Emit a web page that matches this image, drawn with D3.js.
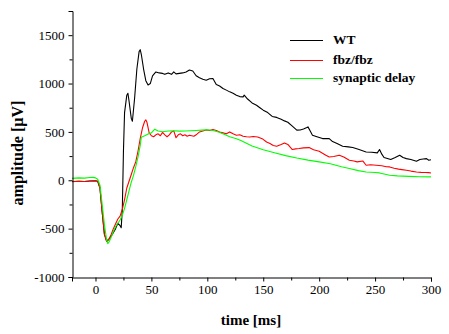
<!DOCTYPE html>
<html>
<head>
<meta charset="utf-8">
<script src="https://cdn.jsdelivr.net/npm/d3@7"></script>
<style>
  html, body { margin: 0; padding: 0; background: #fff; }
  svg { display: block; }
  text { font-family: "Liberation Serif", "Times New Roman", serif; }
</style>
</head>
<body>
<script>
// ---- data (time in ms, amplitude in µV) ----
const seriesNames = ["WT", "fbz/fbz", "synaptic delay"];
const seriesColors = ["#000000", "#ff0000", "#00ff00"];

const wtTime = [-21,-15,-10,-5,0,2,4,6,8,10,12,15,18,20,22,23,24,25,26,28,29,30,32,33,35,37,39,40,41,43,45,47,49,51,54,57,60,62,65,68,70,72,75,78,81,84,87,90,93,96,99,102,105,108,111,114,117,120,123,126,129,132,133,136,140,144,147,150,154,158,162,166,169,172,176,180,183,186,189,190,192,194,198,203,209,212,216,221,226,230,235,242,247,252,254,256,258,261,264,268,272,275,278,282,287,290,293,296,298,300];
const wtValues = [-12,-10,-12,-8,-5,-10,-80,-330,-560,-630,-610,-560,-500,-445,-470,-490,-300,300,700,880,900,820,640,610,850,1150,1330,1350,1300,1150,1030,985,1000,1080,1120,1110,1105,1095,1110,1095,1120,1100,1105,1110,1120,1140,1130,1080,1060,1045,1035,1050,1052,990,975,949,932,914,900,880,865,862,880,840,800,776,750,725,700,660,650,630,614,600,560,518,520,530,545,552,510,466,450,431,431,400,380,352,345,338,320,293,290,283,318,270,235,225,214,235,259,235,224,215,197,215,220,224,207,212];

const fbzTime = [-21,-15,-10,-5,0,2,4,6,8,10,12,14,16,18,20,22,24,26,28,30,32,34,36,38,40,42,44,45,46,48,50,52,54,56,58,60,62,64,66,68,70,72,74,76,78,80,82,84,86,88,90,93,96,99,102,105,108,111,114,117,120,123,126,129,132,135,138,141,145,149,153,156,159,162,166,169,172,176,179,182,186,191,195,200,203,206,209,213,218,222,227,231,234,239,242,246,251,256,260,263,267,271,274,278,282,287,291,295,298,300];
const fbzValues = [-15,-10,-12,-8,-5,-10,-80,-330,-560,-630,-610,-560,-500,-450,-400,-370,-300,-200,-80,-10,60,130,190,300,430,540,610,625,600,490,460,450,470,480,460,495,470,450,470,500,510,440,470,480,460,470,455,465,460,455,470,500,510,520,515,525,515,500,490,480,500,480,466,470,455,450,448,452,448,430,396,380,360,352,370,386,370,318,325,328,335,338,315,300,280,259,241,245,259,240,207,200,190,200,155,160,155,150,140,138,125,115,110,104,95,86,82,80,79,75];

const synTime = [-21,-15,-10,-5,-2,0,2,4,6,8,10,11,12,14,16,18,20,22,24,26,28,30,32,34,36,38,40,41,44,48,50,53,56,60,65,70,75,80,85,90,95,100,105,110,115,120,126,130,140,150,160,170,180,190,200,210,220,227,235,242,250,254,258,263,270,280,290,300];
const synValues = [20,25,22,28,30,25,10,-50,-250,-460,-620,-655,-640,-590,-530,-480,-445,-410,-360,-290,-200,-110,-20,50,140,240,360,445,460,483,490,528,510,502,510,512,508,510,512,515,518,522,515,500,475,450,430,410,355,315,285,255,230,208,190,170,140,121,100,86,80,76,65,52,45,40,37,35];

const xTicks = [0, 50, 100, 150, 200, 250, 300];
const xMinorTicks = [25, 75, 125, 175, 225, 275];
const yTicks = [-1000, -500, 0, 500, 1000, 1500];
const yMinorTicks = [-750, -250, 250, 750, 1250];
const xDomain = [-21, 300];
const yDomain = [-1000, 1750];
const xTitle = "time [ms]";
const yTitle = "amplitude [\u00b5V]";

// ---- drawing ----
const W = 449, H = 334;
const svg = d3.select("body").append("svg").attr("width", W).attr("height", H);

const x = d3.scaleLinear().domain(xDomain).range([72, 431]);
const y = d3.scaleLinear().domain(yDomain).range([277, 11]);

const seriesData = [
  wtTime.map((t, i) => [t, wtValues[i]]),
  fbzTime.map((t, i) => [t, fbzValues[i]]),
  synTime.map((t, i) => [t, synValues[i]])
];

const line = d3.line().x(d => x(d[0])).y(d => y(d[1]));

svg.append("g").selectAll("path").data(seriesData).join("path")
  .attr("d", line)
  .attr("fill", "none")
  .attr("stroke", (d, i) => seriesColors[i])
  .attr("stroke-width", 1.1)
  .attr("stroke-linejoin", "round");

const fmt = d => String(d); // plain hyphen-minus like the reference

// axes
svg.append("g").attr("transform", `translate(0,${y(yDomain[0]) + 0.5})`)
  .call(d3.axisBottom(x).tickValues(xTicks).tickSize(4).tickPadding(3).tickFormat(fmt));
svg.append("g").attr("transform", `translate(0,${y(yDomain[0]) + 0.5})`)
  .call(d3.axisBottom(x).tickValues(xMinorTicks).tickSize(3).tickFormat(""))
  .call(g => g.select(".domain").remove());
svg.append("g").attr("transform", `translate(${x(xDomain[0]) + 0.5},0)`)
  .call(d3.axisLeft(y).tickValues(yTicks).tickSize(4).tickPadding(4).tickFormat(fmt));
svg.append("g").attr("transform", `translate(${x(xDomain[0]) + 0.5},0)`)
  .call(d3.axisLeft(y).tickValues(yMinorTicks).tickSize(3).tickFormat(""))
  .call(g => g.select(".domain").remove());

svg.selectAll(".domain").attr("stroke", "#000").attr("stroke-width", 1);
svg.selectAll(".tick line").attr("stroke", "#000");
svg.selectAll(".tick text")
  .attr("font-family", "'Liberation Serif', serif")
  .attr("font-size", 13)
  .attr("fill", "#000");

// axis titles
svg.append("text")
  .attr("x", 251).attr("y", 325)
  .attr("text-anchor", "middle")
  .attr("font-size", 15).attr("font-weight", "bold")
  .text(xTitle);
svg.append("text")
  .attr("transform", "translate(23,153) rotate(-90)")
  .attr("text-anchor", "middle")
  .attr("font-size", 16).attr("font-weight", "bold")
  .text(yTitle);

// legend
const legY = [40, 60, 78];
const leg = svg.append("g");
seriesNames.forEach((name, i) => {
  leg.append("line")
    .attr("x1", 290).attr("x2", 323)
    .attr("y1", legY[i] + 0.5).attr("y2", legY[i] + 0.5)
    .attr("stroke", seriesColors[i]).attr("stroke-width", 1);
  leg.append("text")
    .attr("x", 333).attr("y", legY[i] + 4)
    .attr("font-size", 13.5).attr("font-weight", "bold")
    .text(name);
});
</script>
</body>
</html>
